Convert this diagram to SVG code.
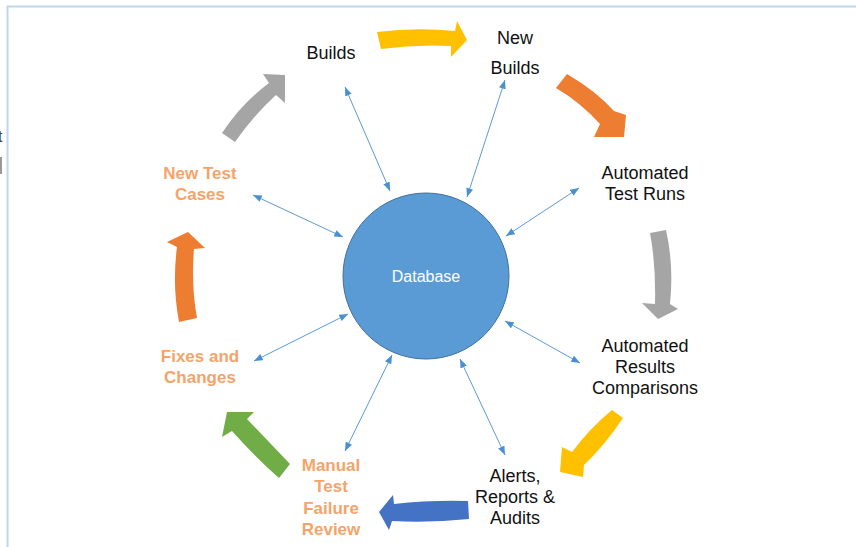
<svg xmlns="http://www.w3.org/2000/svg" width="856" height="547" viewBox="0 0 856 547">
<style>
.lbl{font-family:"Liberation Sans",Arial,sans-serif;font-size:18px;fill:#111;text-anchor:middle}
.org{font-family:"Liberation Sans",Arial,sans-serif;font-size:17px;font-weight:bold;fill:#F4A46A;text-anchor:middle}
.con{stroke:#5B9BD5;stroke-width:1;fill:none;marker-start:url(#ah);marker-end:url(#ah)}
</style>
<defs>
<marker id="ah" viewBox="0 0 10 8" refX="10" refY="4" markerWidth="9" markerHeight="7" markerUnits="userSpaceOnUse" orient="auto-start-reverse">
<path d="M0,0 L10,4 L0,8 Z" fill="#4A90D0"/>
</marker>
</defs>
<rect width="856" height="547" fill="#fff"/>
<g id="frame">
<line x1="7.5" y1="6" x2="7.5" y2="547" stroke="#BDD7EE" stroke-width="2"/>
<line x1="7" y1="6.5" x2="856" y2="6.5" stroke="#BDD7EE" stroke-width="2"/>
<text x="-2" y="142" font-family="Liberation Sans,Arial,sans-serif" font-size="16" fill="#444">t</text>
<rect x="0" y="157" width="2" height="17" fill="#999"/>
</g>
<g id="cycle-arrows">
<path d="M377,32 Q416,27 455,31 L457,21 L467,40 L451,57 L451,46 Q416,44 381,49 Z" fill="#FFC000"/>
<path d="M567,74 Q596,91 614,111 L626,115 L624,137 L594,137 L600,124 Q580,102 556,88 Z" fill="#ED7D31"/>
<path d="M650,233 L666,230 Q674,265 670,304 L678,309 L658,319 L642,303 L655,304 Q656,265 650,233 Z" fill="#A5A5A5"/>
<path d="M612,410 L623,418 Q605,445 584,465 L583,477 L560,472 L562,447 L572,452 Q590,428 612,410 Z" fill="#FFC000"/>
<path d="M468,501 L469,519 Q430,523 392,521 L389,530 L379,512 L393,495 L394,504 Q430,500 468,501 Z" fill="#4472C4"/>
<path d="M290,464 Q266,439 247,419 L254,412 L227,412 L222,437 L232,431 Q257,459 279,478 Z" fill="#70AD47"/>
<path d="M179,322 L197,318 Q191,285 194,249 L205,248 L188,232 L167,242 L177,247 Q172,285 179,322 Z" fill="#ED7D31"/>
<path d="M222,133 Q242,103 269,83 L263,74 L285,75 L285,103 L276,95 Q254,115 235,142 Z" fill="#A5A5A5"/>
</g>
<g id="connectors">
<line class="con" x1="345" y1="87" x2="390" y2="191"/>
<line class="con" x1="505" y1="80" x2="467" y2="197"/>
<line class="con" x1="579" y1="188" x2="506" y2="236"/>
<line class="con" x1="580" y1="363" x2="505" y2="321"/>
<line class="con" x1="505" y1="455" x2="460" y2="359"/>
<line class="con" x1="345" y1="451" x2="392" y2="355"/>
<line class="con" x1="254" y1="361" x2="348" y2="314"/>
<line class="con" x1="253" y1="195" x2="343" y2="237"/>
</g>
<g id="database">
<circle cx="426" cy="276" r="83" fill="#5B9BD5" stroke="#41719C" stroke-width="1"/>
<text x="426" y="282" font-family="Liberation Sans,Arial,sans-serif" font-size="16" fill="#fff" text-anchor="middle">Database</text>
</g>
<g id="builds"><text class="lbl" x="331" y="59">Builds</text></g>
<g id="new-builds"><text class="lbl" x="515" y="44">New</text><text class="lbl" x="515" y="74">Builds</text></g>
<g id="automated-test-runs"><text class="lbl" x="645" y="179">Automated</text><text class="lbl" x="645" y="200">Test Runs</text></g>
<g id="automated-results"><text class="lbl" x="645" y="352">Automated</text><text class="lbl" x="645" y="373">Results</text><text class="lbl" x="645" y="394">Comparisons</text></g>
<g id="alerts"><text class="lbl" x="515" y="482">Alerts,</text><text class="lbl" x="515" y="503">Reports &amp;</text><text class="lbl" x="515" y="524">Audits</text></g>
<g id="manual-review"><text class="org" x="331" y="471">Manual</text><text class="org" x="331" y="492">Test</text><text class="org" x="331" y="514">Failure</text><text class="org" x="331" y="535">Review</text></g>
<g id="fixes"><text class="org" x="200" y="362">Fixes and</text><text class="org" x="200" y="383">Changes</text></g>
<g id="new-test-cases"><text class="org" x="200" y="179">New Test</text><text class="org" x="200" y="200">Cases</text></g>
</svg>
